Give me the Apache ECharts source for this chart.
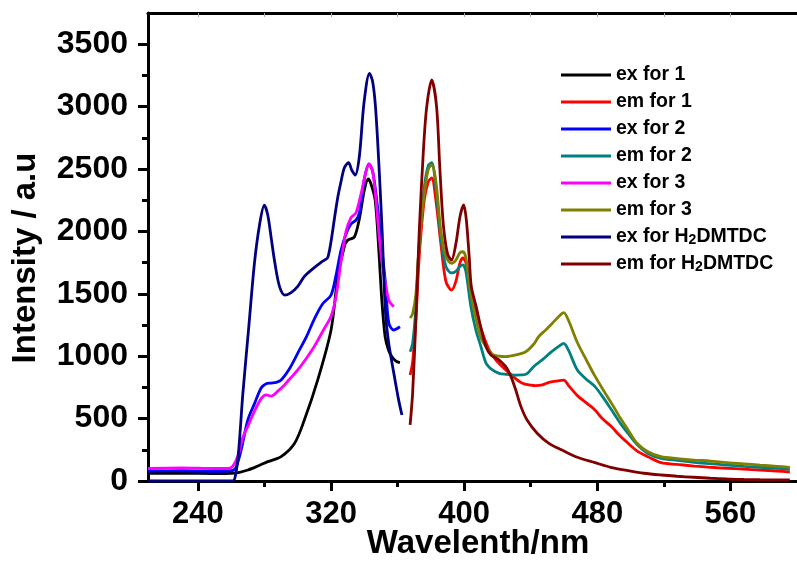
<!DOCTYPE html>
<html><head><meta charset="utf-8">
<script src="https://cdn.jsdelivr.net/npm/echarts@6/dist/echarts.min.js"></script>
<style>html,body{margin:0;padding:0;background:#fff}#c{width:797px;height:562px}</style>
</head><body><div id="c"></div><script>
// ---- data (wavelength in nm, intensity in a.u.) ----
const exFor1_nm  = [210,230,250,260,265,270,276,282,290,298,304,312,320,324,328,330,334,337,340,342.3,344,346.5,348.7,350.5,352.5,354.5,356.6,359,361.4];
const exFor1_int = [62,62,60,62,70,88,120,155,195,300,490,810,1210,1630,1880,1930,1955,2100,2330,2420,2380,2250,1850,1450,1156,1050,996,960,948];

const emFor1_nm  = [367.5,369,371,373,376,378.5,380.5,383,386,389,392.4,395,397.5,399.3,401,404,407,411,415,419,425,430,435,440,443,447,451,455,459.8,463,468.7,474,478.6,483,488.6,493,498.5,504,510.4,518.3,528,538.2,548,558,568,577.9,588,595.7];
const emFor1_int = [849,950,1300,1800,2250,2400,2428,2250,1900,1600,1530,1600,1750,1787,1750,1550,1370,1186,1050,970,889,830,783,768,764,770,791,800,809,760,676,620,569,500,435,370,302,240,195,147,133,120,110,102,95,88,80,72];

const exFor2_nm  = [210,230,250,258,261,263,266,270,274,278,281,284,287,290,295,300,305,310,315,320,323,326,329,332,335,337,340,342.8,345,347,348.7,351,352.7,354.7,357.7,361.4];
const exFor2_int = [80,82,78,80,85,110,250,490,620,745,780,785,790,810,900,1025,1150,1300,1420,1490,1650,1850,1980,2060,2090,2150,2420,2540,2480,2300,2100,1800,1586,1266,1210,1236];

const emFor2_nm  = [367.5,369,371,373,376,378.5,380.5,383,386,389,392.4,395,397.5,399.3,401,404,407,410,413.2,417,421,425,431,435,438,442,446.9,452,457,459.8,462.6,468,473,478.6,484,488.6,494,498.5,504,510.4,518.3,528,538.2,548,558,568,577.9,588,595.7];
const emFor2_int = [1036,1100,1400,1900,2350,2530,2550,2350,1950,1720,1667,1680,1720,1731,1680,1400,1210,1080,943,890,863,855,849,850,863,920,970,1030,1080,1103,1050,889,820,756,660,569,460,381,290,221,182,165,150,139,128,118,110,102,94];

const exFor3_nm  = [210,230,250,258,261,264,267,270,274,278,281,284,288,292,296,300,305,310,315,320,323,326,329,332,335,338,341,342.8,345,347,349,351,354.7,357.7];
const exFor3_int = [100,105,100,100,120,200,350,440,560,660,690,680,720,770,830,890,980,1080,1200,1320,1480,1760,2000,2110,2150,2300,2480,2540,2480,2250,1950,1717,1450,1397];

const emFor3_nm  = [367.5,369,371,373,376,378.5,380.5,383,386,389,392.4,395,397.5,399.3,401,404,407.2,410,413.2,417,421,425,431,437,442,444.7,449,453,457,459.8,462.6,467.8,473,478.6,484,488.6,494,498.5,504,510.4,518.3,528,538.2,548,558,568,577.9,588,595.7];
const emFor3_int = [1306,1340,1500,1900,2300,2500,2530,2400,2000,1800,1744,1770,1830,1837,1790,1500,1290,1150,1076,1015,1000,996,1010,1036,1100,1156,1210,1264,1320,1349,1290,1116,980,840,720,622,500,409,300,235,195,180,168,160,147,138,128,118,110];

const exForH2_nm  = [210,230,250,261,262.5,264.4,267,270.4,274,277,279.9,282,284,286.2,289,292.2,296,300,304,309,313.8,316,318,320,322,324,326,328,330.5,332.5,334.5,337,339.8,343.1,345,346.7,348.7,350.7,352.7,354.7,357.7,360.6,362.6];
const exForH2_int = [0,0,0,0,40,230,700,1210,1750,2050,2210,2130,1950,1750,1560,1490,1510,1560,1640,1700,1750,1770,1790,1920,2100,2270,2400,2510,2550,2490,2452,2600,3030,3267,3200,3000,2550,2000,1350,1100,865,650,529];

const emForH2_nm  = [367.5,369,371,373,375.5,377.5,380.5,383.4,385.4,387.5,390,392.4,395,397.5,399.7,401.3,403,404.3,407.2,410,413,416,419,421,425,428,431,434,437.8,444,450.9,458.8,468,478.6,488,498.5,508,518.3,528,538,548,558,568,577.9,588,595.7];
const emForH2_int = [449,700,1300,2000,2650,3000,3213,3000,2500,2050,1820,1771,1900,2120,2212,2091,1800,1557,1397,1230,1080,1010,986,970,916,840,729,600,489,381,302,248,190,147,110,83,62,48,38,30,22,16,12,10,9,8];

const seriesNames = ['ex for 1','em for 1','ex for 2','em for 2','ex for 3','em for 3','ex for H2DMTDC','em for H2DMTDC'];
const seriesColors = ['#000000','#ff0000','#0000ff','#008080','#ff00ff','#808000','#000080','#800000'];
const seriesX = [exFor1_nm, emFor1_nm, exFor2_nm, emFor2_nm, exFor3_nm, emFor3_nm, exForH2_nm, emForH2_nm];
const seriesY = [exFor1_int, emFor1_int, exFor2_int, emFor2_int, exFor3_int, emFor3_int, exForH2_int, emForH2_int];

const xMajor = [240,320,400,480,560];
const xMinor = [280,360,440,520];
const xTop   = [240,280,320,360,400,440,480,520,560];
const yMajor = [0,500,1000,1500,2000,2500,3000,3500];
const yMinor = [250,750,1250,1750,2250,2750,3250];

const FONT = 'Liberation Sans, Arial, Helvetica, sans-serif';
const chart = echarts.init(document.getElementById('c'), null, {renderer:'canvas'});

const series = seriesNames.map((n,i)=>({
  name:n, type:'line', xAxisIndex:0, yAxisIndex:0,
  data: seriesX[i].map((x,j)=>[x, seriesY[i][j]]),
  showSymbol:false, symbol:'none', smooth:0.3,
  lineStyle:{color:seriesColors[i], width:2.8}, itemStyle:{color:seriesColors[i]},
  animation:false
}));

const plain = v => String(v);
const axisBase = {type:'value', min:210, max:600, splitLine:{show:false}};
chart.setOption({
  animation:false,
  grid:{left:148, top:13, width:655, height:468, containLabel:false},
  xAxis:[
    Object.assign({}, axisBase, {position:'bottom',
      axisLine:{show:true, onZero:false, lineStyle:{color:'#000', width:3}},
      axisTick:{show:true, customValues:xMajor, length:10, lineStyle:{color:'#000', width:3}},
      axisLabel:{show:true, customValues:xMajor, formatter:plain, margin:18, fontSize:31, fontWeight:'bold', color:'#000', fontFamily:FONT}}),
    Object.assign({}, axisBase, {position:'bottom',
      axisLine:{show:false, onZero:false},
      axisTick:{show:true, customValues:xMinor, length:6, lineStyle:{color:'#000', width:3}},
      axisLabel:{show:false}}),
    Object.assign({}, axisBase, {position:'top',
      axisLine:{show:true, onZero:false, lineStyle:{color:'#000', width:3}},
      axisTick:{show:true, inside:true, customValues:xTop, length:4, lineStyle:{color:'#aaa', width:1}},
      axisLabel:{show:false}})
  ],
  yAxis:[
    {type:'value', position:'left', min:0, max:3750, splitLine:{show:false},
      axisLine:{show:true, onZero:false, lineStyle:{color:'#000', width:3}},
      axisTick:{show:true, customValues:yMajor, length:10, lineStyle:{color:'#000', width:3}},
      axisLabel:{show:true, customValues:yMajor, formatter:plain, margin:20, fontSize:32, fontWeight:'bold', color:'#000', fontFamily:FONT}},
    {type:'value', position:'left', min:0, max:3750, splitLine:{show:false},
      axisLine:{show:false, onZero:false},
      axisTick:{show:true, customValues:yMinor, length:6, lineStyle:{color:'#000', width:3}},
      axisLabel:{show:false}}
  ],
  legend:{
    data:seriesNames, orient:'vertical', left:561, top:65, padding:0,
    icon:'rect', itemWidth:50, itemHeight:3, itemGap:7,
    formatter:function(n){ return n.replace('H2','H{s|2}'); },
    textStyle:{fontSize:19.5, fontWeight:'bold', color:'#000', fontFamily:FONT, lineHeight:20,
      rich:{s:{fontSize:14, fontWeight:'bold', color:'#000', fontFamily:FONT, verticalAlign:'bottom', lineHeight:20, padding:[5,0,0,0]}}}
  },
  graphic:[
    {type:'text', x:478, y:544, style:{text:'Wavelenth/nm', font:'bold 33px '+FONT, fill:'#000', textAlign:'center', textVerticalAlign:'middle'}},
    {type:'text', x:26, y:258, rotation:Math.PI/2, style:{text:'Intensity / a.u', font:'bold 33px '+FONT, fill:'#000', textAlign:'center', textVerticalAlign:'middle'}}
  ],
  series:series
});
</script></body></html>
